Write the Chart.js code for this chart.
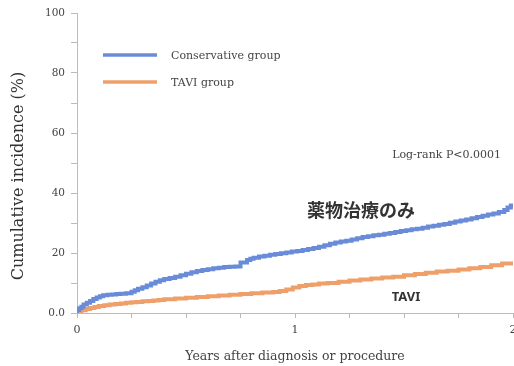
<!DOCTYPE html>
<html>
<head>
<meta charset="utf-8">
<script src="https://cdn.jsdelivr.net/npm/chart.js@4/dist/chart.umd.min.js"></script>
<style>
  html, body { margin: 0; padding: 0; background: #fff; overflow: hidden; }
  #wrap { width: 514px; height: 366px; position: relative; }
</style>
</head>
<body>
<div id="wrap"><canvas id="c" width="514" height="366"></canvas></div>
<script>
// Years after diagnosis / procedure and cumulative incidence (%) per group
const conservativeYears = [0, 0.01, 0.02, 0.03, 0.045, 0.06, 0.075, 0.09, 0.105, 0.12, 0.14, 0.16, 0.18, 0.2, 0.225, 0.25, 0.265, 0.28, 0.3, 0.32, 0.34, 0.36, 0.38, 0.4, 0.425, 0.45, 0.475, 0.5, 0.525, 0.55, 0.575, 0.6, 0.625, 0.65, 0.675, 0.7, 0.725, 0.75, 0.78, 0.795, 0.81, 0.835, 0.86, 0.885, 0.91, 0.935, 0.96, 0.985, 1.01, 1.035, 1.06, 1.085, 1.11, 1.135, 1.16, 1.185, 1.21, 1.235, 1.26, 1.285, 1.31, 1.335, 1.36, 1.385, 1.41, 1.435, 1.46, 1.485, 1.51, 1.535, 1.56, 1.585, 1.61, 1.635, 1.66, 1.685, 1.71, 1.735, 1.76, 1.785, 1.81, 1.835, 1.86, 1.885, 1.91, 1.935, 1.96, 1.975, 1.99, 2.0];
const conservativeValues = [0, 1.0, 1.6, 2.1, 2.8, 3.4, 4.0, 4.7, 5.2, 5.6, 5.9, 6.1, 6.2, 6.3, 6.4, 6.6, 7.1, 7.6, 8.1, 8.6, 9.2, 9.8, 10.4, 10.9, 11.3, 11.7, 12.1, 12.6, 13.1, 13.6, 14.0, 14.3, 14.6, 14.9, 15.1, 15.3, 15.4, 15.5, 16.8, 17.7, 18.1, 18.4, 18.8, 19.1, 19.4, 19.7, 19.9, 20.2, 20.5, 20.7, 21.0, 21.3, 21.7, 22.1, 22.6, 23.1, 23.5, 23.8, 24.1, 24.5, 24.9, 25.3, 25.6, 25.9, 26.1, 26.4, 26.7, 27.0, 27.3, 27.6, 27.9, 28.1, 28.4, 28.8, 29.1, 29.4, 29.7, 30.1, 30.5, 30.8, 31.2, 31.6, 32.0, 32.4, 32.8, 33.2, 33.7, 34.3, 35.2, 35.8];

const taviYears = [0, 0.02, 0.04, 0.06, 0.08, 0.1, 0.125, 0.15, 0.175, 0.2, 0.225, 0.25, 0.275, 0.3, 0.325, 0.35, 0.375, 0.4, 0.45, 0.5, 0.55, 0.6, 0.65, 0.7, 0.75, 0.8, 0.85, 0.9, 0.93, 0.96, 0.99, 1.02, 1.05, 1.08, 1.11, 1.15, 1.2, 1.25, 1.3, 1.35, 1.4, 1.45, 1.5, 1.55, 1.6, 1.65, 1.7, 1.75, 1.8, 1.85, 1.9, 1.95, 2.0];
const taviValues = [0, 0.5, 0.9, 1.3, 1.7, 2.0, 2.3, 2.6, 2.8, 3.0, 3.2, 3.4, 3.6, 3.7, 3.9, 4.0, 4.2, 4.3, 4.6, 4.8, 5.1, 5.3, 5.6, 5.8, 6.1, 6.3, 6.6, 6.8, 7.0, 7.3, 7.8, 8.5, 9.0, 9.3, 9.5, 9.8, 10.0, 10.4, 10.8, 11.2, 11.5, 11.8, 12.1, 12.6, 13.0, 13.4, 13.8, 14.1, 14.5, 14.9, 15.3, 15.9, 16.5];

const seriesLabels = ['Conservative group', 'TAVI group'];
const xTickLabels = ['0', '1', '2'];
const yTickLabels = ['0.0', '20', '40', '60', '80', '100'];

const BLUE = '#6a8cd8';
const ORANGE = '#efa06a';
const SERIF = '"DejaVu Serif", "Liberation Serif", serif';

const toPoints = (xs, ys) => xs.map((x, i) => ({ x: x, y: ys[i] }));

// Legend, axis title and in-plot annotations
const annotate = {
  id: 'annotate',
  afterDraw(chart) {
    const ctx = chart.ctx;
    const ds = chart.data.datasets;
    ctx.save();

    // legend
    const rows = [55, 82];
    ds.forEach((d, i) => {
      ctx.strokeStyle = d.borderColor;
      ctx.lineWidth = 3.5;
      ctx.beginPath();
      ctx.moveTo(103, rows[i]);
      ctx.lineTo(157, rows[i]);
      ctx.stroke();
      ctx.fillStyle = '#444';
      ctx.font = '11px ' + SERIF;
      ctx.textAlign = 'left';
      ctx.textBaseline = 'middle';
      ctx.fillText(d.label, 171, rows[i] + 1);
    });

    // y-axis title
    ctx.save();
    ctx.translate(19, 176);
    ctx.rotate(-Math.PI / 2);
    ctx.fillStyle = '#333';
    ctx.font = '16px ' + SERIF;
    ctx.textAlign = 'center';
    ctx.textBaseline = 'middle';
    ctx.fillText('Cumulative incidence (%)', 0, 0);
    ctx.restore();

    // log-rank result
    ctx.fillStyle = '#444';
    ctx.font = '11px ' + SERIF;
    ctx.textAlign = 'right';
    ctx.textBaseline = 'middle';
    ctx.fillText('Log-rank P<0.0001', 501, 155);

    // group labels
    ctx.fillStyle = '#333';
    ctx.font = 'bold 18px "Noto Sans CJK JP", sans-serif';
    ctx.textAlign = 'center';
    ctx.fillText('薬物治療のみ', 361, 210);
    ctx.font = 'bold 13px "Noto Sans", sans-serif';
    ctx.fillText('TAVI', 406, 297);

    ctx.restore();
  }
};

new Chart(document.getElementById('c'), {
  type: 'line',
  data: {
    datasets: [
      {
        label: seriesLabels[0],
        data: toPoints(conservativeYears, conservativeValues),
        borderColor: BLUE,
        borderWidth: 4,
        pointRadius: 0,
        stepped: 'after',
        fill: false
      },
      {
        label: seriesLabels[1],
        data: toPoints(taviYears, taviValues),
        borderColor: ORANGE,
        borderWidth: 4,
        pointRadius: 0,
        stepped: 'after',
        fill: false
      }
    ]
  },
  options: {
    responsive: false,
    animation: false,
    devicePixelRatio: 1,
    layout: { padding: { top: 13, left: 0, right: 1, bottom: 0 } },
    plugins: { legend: { display: false }, tooltip: { enabled: false } },
    scales: {
      x: {
        type: 'linear',
        min: 0,
        max: 2,
        border: { color: '#bbb', width: 1 },
        grid: { drawOnChartArea: false, drawTicks: true, tickLength: 5, color: '#bbb' },
        ticks: {
          stepSize: 0.25,
          autoSkip: false,
          maxRotation: 0,
          padding: 6,
          color: '#444',
          font: { family: SERIF, size: 11 },
          callback: v => Number.isInteger(v) ? xTickLabels[v] : ''
        },
        title: {
          display: true,
          text: 'Years after diagnosis or procedure',
          color: '#444',
          font: { family: SERIF, size: 12.5 },
          padding: { top: 0, bottom: 2 }
        },
        afterFit(scale) {
          scale.paddingLeft = 0;
          scale.paddingRight = 0;
          scale.height = 53;
        }
      },
      y: {
        min: 0,
        max: 100,
        border: { color: '#bbb', width: 1 },
        grid: { drawOnChartArea: false, drawTicks: true, tickLength: 6, color: '#bbb' },
        ticks: {
          stepSize: 10,
          autoSkip: false,
          padding: 6,
          color: '#444',
          font: { family: SERIF, size: 10.5 },
          callback: v => v % 20 === 0 ? yTickLabels[v / 20] : ''
        },
        afterFit(scale) {
          scale.paddingTop = 0;
          scale.paddingBottom = 0;
          scale.width = 77;
        }
      }
    }
  },
  plugins: [annotate]
});
</script>
</body>
</html>
